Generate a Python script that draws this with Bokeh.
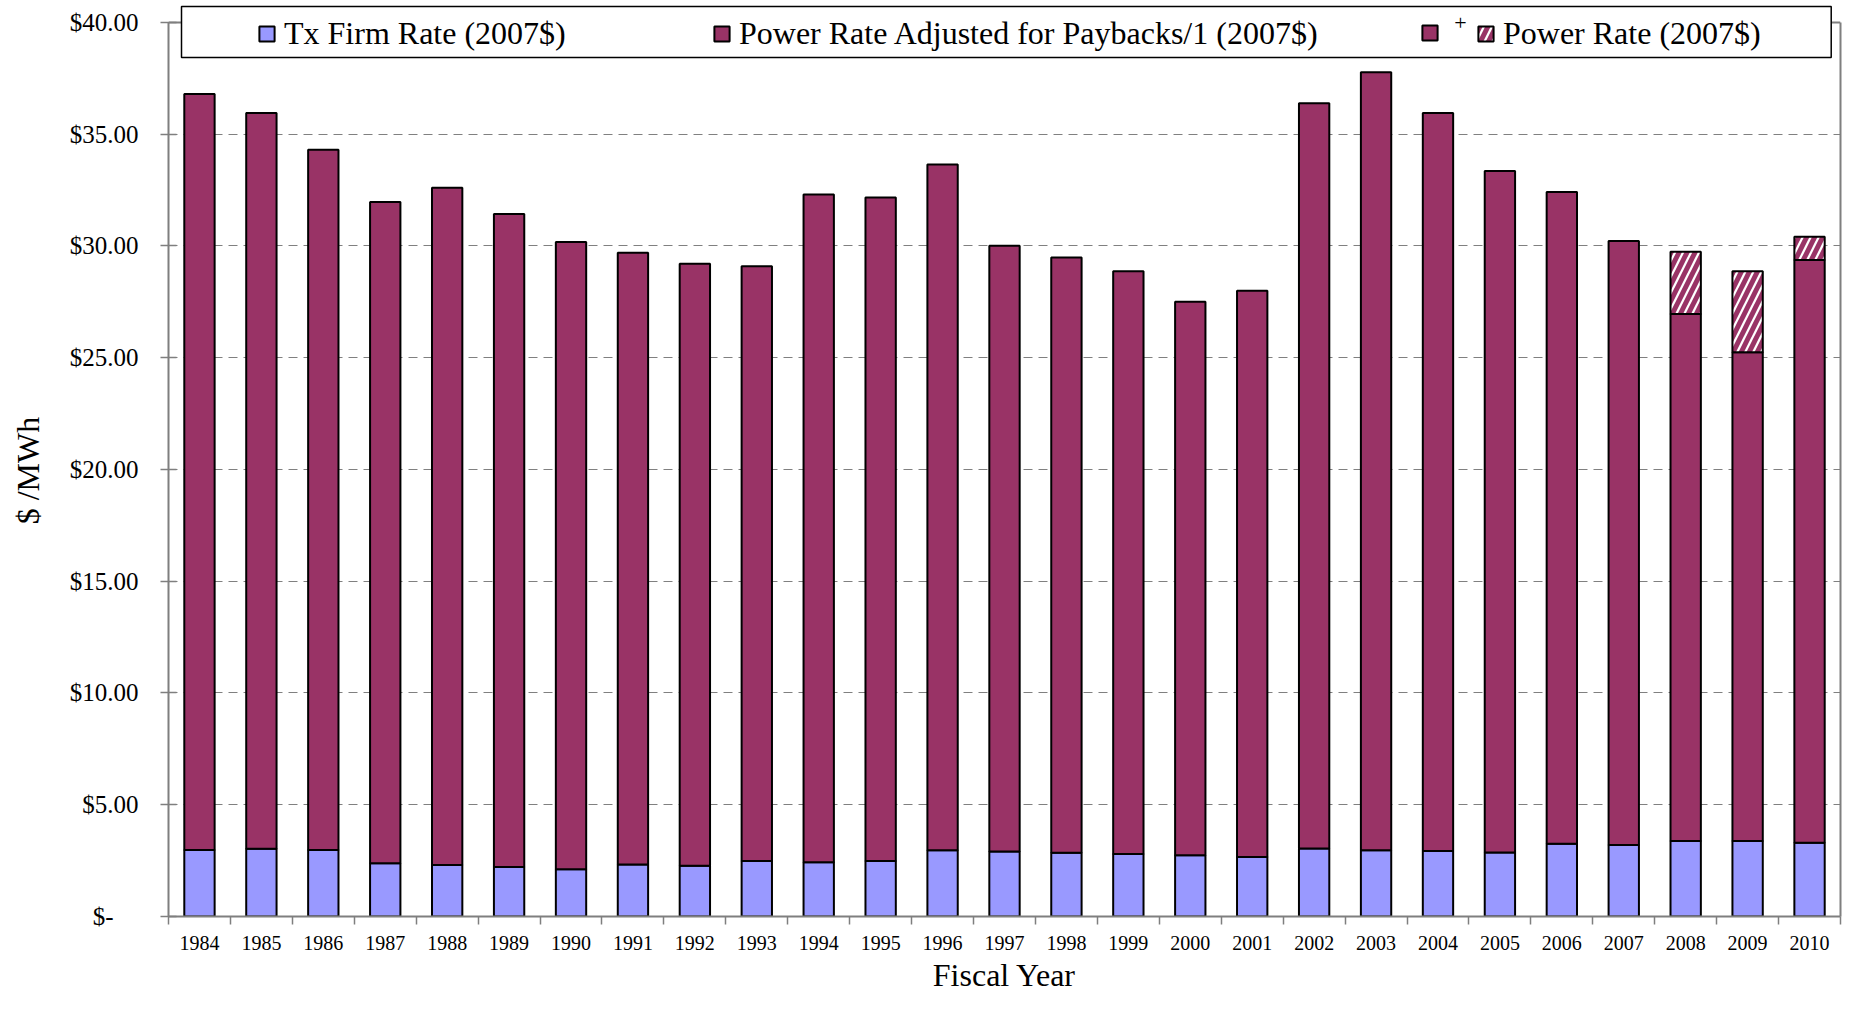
import numpy as np
from bokeh.plotting import figure
from bokeh.models import (Range1d, LinearAxis, FixedTicker, Grid, Legend,
                          LegendItem, Label)
from bokeh.embed import file_html
from bokeh.resources import INLINE

# ---------------- data ----------------
years = [str(y) for y in range(1984, 2011)]
tx_firm = [2.97, 3.03, 2.97, 2.38, 2.30, 2.21, 2.11, 2.33, 2.27, 2.48,
           2.43, 2.48, 2.96, 2.91, 2.85, 2.80, 2.74, 2.66, 3.04, 2.96,
           2.93, 2.86, 3.26, 3.20, 3.38, 3.38, 3.30]
power_adj = [33.83, 32.92, 31.33, 29.58, 30.30, 29.22, 28.07, 27.37, 26.93, 26.61,
             29.87, 29.69, 30.68, 27.10, 26.63, 26.07, 24.76, 25.34, 33.34, 34.81,
             33.02, 30.49, 29.15, 27.02, 23.57, 21.86, 26.07]
payback = [0, 0, 0, 0, 0, 0, 0, 0, 0, 0,
           0, 0, 0, 0, 0, 0, 0, 0, 0, 0,
           0, 0, 0, 0, 2.79, 3.63, 1.04]
y_ticks = [0, 5, 10, 15, 20, 25, 30, 35, 40]
y_tick_labels = ["$-\u00a0\u00a0\u00a0\u00a0", "$5.00", "$10.00", "$15.00", "$20.00",
                 "$25.00", "$30.00", "$35.00", "$40.00"]
series_names = ["Tx Firm Rate (2007$)",
                "Power Rate Adjusted for Paybacks/1 (2007$)",
                "Power Rate (2007$)"]

# ---------------- styling ----------------
FONT = "Liberation Serif"
BLUE = "#9999FF"
MAROON = "#993366"
GRAY = "#7f7f7f"
Y_MAX = 40
Y_TOP = 40.98  # frame extends a little above $40 so the legend box fits

n = len(years)
xc = np.arange(n) + 0.5
tx = np.array(tx_firm)
pa = np.array(power_adj)
pb = np.array(payback)
top1 = tx
top2 = tx + pa
top3 = top2 + pb
mask = pb > 0

p = figure(width=1842, height=998, x_range=Range1d(0, n), y_range=Range1d(0, Y_TOP),
           x_axis_type=None, y_axis_type=None, output_backend="svg",
           toolbar_location=None, min_border_left=168, min_border_right=2,
           min_border_top=0, min_border_bottom=82)
p.outline_line_color = None
p.background_fill_color = "white"
p.border_fill_color = "white"

# grid
p.add_layout(Grid(dimension=1, ticker=FixedTicker(ticks=y_ticks[1:-1]),
                  grid_line_color="#808080", grid_line_dash="9 6",
                  grid_line_width=1))

# plot-area top border at $40
p.segment(x0=[0], x1=[n], y0=[Y_MAX], y1=[Y_MAX], line_color=GRAY, line_width=2)

# bars
BW = 0.49
r_tx = p.vbar(x=xc, width=BW, bottom=0, top=top1, fill_color=BLUE,
              line_color="black", line_width=2)
r_pa = p.vbar(x=xc, width=BW, bottom=top1, top=top2, fill_color=MAROON,
              line_color="black", line_width=2)
r_pb = p.vbar(x=xc[mask], width=BW, bottom=top2[mask], top=top3[mask],
              fill_color="white", hatch_pattern="/", hatch_color=MAROON,
              hatch_scale=16, hatch_weight=5, line_color="black", line_width=2)

# legend box
p.quad(left=[0.21], right=[26.85], bottom=[38.43], top=[40.71],
       fill_color="white", line_color="black", line_width=1.5)

# y axis
yax = LinearAxis(ticker=FixedTicker(ticks=y_ticks), bounds=(0, Y_MAX),
                 major_label_overrides={t: l for t, l in zip(y_ticks, y_tick_labels)},
                 axis_line_color=GRAY, axis_line_width=2,
                 major_tick_line_color=GRAY, major_tick_line_width=1.5,
                 major_tick_in=8, major_tick_out=8, minor_tick_line_color=None,
                 major_label_standoff=22, major_label_text_font=FONT,
                 major_label_text_font_size="25px", major_label_text_color="black",
                 axis_label="$ /MWh\u00a0\u00a0\u00a0", axis_label_text_font=FONT,
                 axis_label_text_font_size="32px", axis_label_text_font_style="normal",
                 axis_label_text_color="black", axis_label_standoff=21)
p.add_layout(yax, "left")

# x axis: ticks at category boundaries
bounds = list(range(n + 1))
xax_ticks = LinearAxis(ticker=FixedTicker(ticks=bounds),
                       major_label_overrides={b: "" for b in bounds},
                       major_label_text_font_size="1px", major_label_standoff=0,
                       axis_line_color=GRAY, axis_line_width=2,
                       major_tick_line_color=GRAY, major_tick_line_width=1.5,
                       major_tick_in=0, major_tick_out=8, minor_tick_line_color=None)
p.add_layout(xax_ticks, "below")

# x axis: year labels at category centres
xax_lab = LinearAxis(ticker=FixedTicker(ticks=list(xc)),
                     major_label_overrides={float(c): y for c, y in zip(xc, years)},
                     axis_line_color=None, major_tick_line_color=None,
                     minor_tick_line_color=None, major_tick_in=0, major_tick_out=0,
                     major_label_standoff=11, major_label_text_font=FONT,
                     major_label_text_font_size="20px", major_label_text_color="black",
                     axis_label="Fiscal Year", axis_label_text_font=FONT,
                     axis_label_text_font_size="32px", axis_label_text_font_style="normal",
                     axis_label_text_color="black", axis_label_standoff=4)
p.add_layout(xax_lab, "below")

# right border of plot area
p.add_layout(LinearAxis(ticker=FixedTicker(ticks=[]), bounds=(0, Y_MAX),
                        axis_line_color=GRAY, axis_line_width=2,
                        major_tick_line_color=None, minor_tick_line_color=None), "right")


def sub_legend(label, rend, vx, vy):
    return Legend(items=[LegendItem(label=label, renderers=[rend])],
                  location=(vx, vy), orientation="horizontal", padding=0,
                  margin=0, glyph_width=19, glyph_height=19, label_standoff=8,
                  label_text_font=FONT, label_text_font_size="32px",
                  label_text_color="black", border_line_color=None,
                  background_fill_alpha=0)


p.add_layout(sub_legend(series_names[0], r_tx, 89, 864), "center")
p.add_layout(sub_legend(series_names[1], r_pa, 544, 864), "center")
p.add_layout(sub_legend(" ", r_pa, 1252, 874), "center")
p.add_layout(sub_legend(series_names[2], r_pb, 1308, 864), "center")
p.add_layout(Label(x=1292, y=894, x_units="screen", y_units="screen", text="+",
                   text_font=FONT, text_font_size="22px", text_align="center",
                   text_baseline="middle", text_color="black"))

open("out.html", "w").write(file_html(p, INLINE))
